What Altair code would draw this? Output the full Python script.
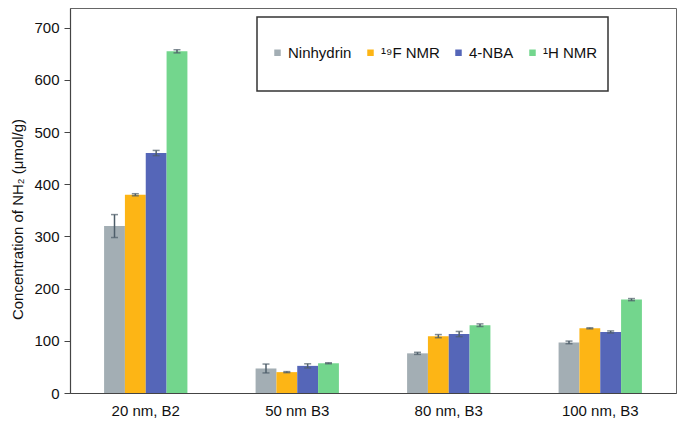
import altair as alt
import pandas as pd

categories = ["20 nm, B2", "50 nm B3", "80 nm, B3", "100 nm, B3"]
methods = ["Ninhydrin", "¹⁹F NMR", "4-NBA", "¹H NMR"]
colors = ["#A3AEB4", "#FDB515", "#5566B8", "#73D68D"]

ninhydrin = [320, 47, 76, 97]
f19_nmr = [380, 40, 109, 124]
nba = [460, 52, 113, 117]
h1_nmr = [655, 57, 130, 179]

ninhydrin_err = [22, 8.5, 2, 2.5]
f19_err = [2, 1, 3, 1]
nba_err = [5, 4, 5, 2]
h1_err = [3, 1, 2.5, 2]

series = [ninhydrin, f19_nmr, nba, h1_nmr]
errs = [ninhydrin_err, f19_err, nba_err, h1_err]

rows = []
for m, vals, es in zip(methods, series, errs):
    for c, v, e in zip(categories, vals, es):
        rows.append({"sample": c, "method": m, "value": v, "lo": v - e, "hi": v + e})
df = pd.DataFrame(rows)

FONT = "Liberation Sans"

x_enc = alt.X("sample:N", sort=categories, title=None,
              scale=alt.Scale(paddingInner=0.45, paddingOuter=0.225),
              axis=alt.Axis(labelAngle=0, labelFontSize=15, labelColor="#111",
                            ticks=False, labelPadding=10, domainColor="#444",
                            domainWidth=1.2))
xoff = alt.XOffset("method:N", sort=methods, scale=alt.Scale(paddingInner=0, paddingOuter=0))

base = alt.Chart(df)

bars = base.mark_bar(opacity=1).encode(
    x=x_enc,
    xOffset=xoff,
    y=alt.Y("value:Q",
            scale=alt.Scale(domain=[0, 738], nice=False),
            axis=alt.Axis(values=[0, 100, 200, 300, 400, 500, 600, 700],
                          title="Concentration of NH₂ (μmol/g)",
                          titleFontSize=15, titleFontWeight="normal",
                          titleColor="#111", titleX=-45, titleY=211,
                          labelFontSize=15, labelColor="#111", labelPadding=5,
                          tickSize=6, tickColor="#444", domainColor="#444",
                          domainWidth=1.2, grid=False)),
    color=alt.Color("method:N", sort=methods,
                    scale=alt.Scale(domain=methods, range=colors),
                    legend=alt.Legend(orient="none", direction="horizontal",
                                      legendX=200, legendY=37, title=None,
                                      symbolType="square", symbolSize=42,
                                      symbolStrokeWidth=0, labelFontSize=15,
                                      labelColor="#111", labelOffset=3,
                                      columnPadding=11, padding=0)),
)

rules = base.mark_rule(color="#4E5E6A", strokeWidth=1.5).encode(
    x=alt.X("sample:N", sort=categories),
    xOffset=xoff,
    y="lo:Q",
    y2="hi:Q",
)

caps_hi = base.mark_tick(color="#4E5E6A", size=7, thickness=1.5).encode(
    x=alt.X("sample:N", sort=categories),
    xOffset=xoff,
    y="hi:Q",
)
caps_lo = base.mark_tick(color="#4E5E6A", size=7, thickness=1.5).encode(
    x=alt.X("sample:N", sort=categories),
    xOffset=xoff,
    y="lo:Q",
)

frame = alt.Chart(pd.DataFrame({"a": [0]})).mark_rect(
    fill="transparent", stroke="#333", strokeWidth=1.5
).encode(
    x=alt.value(187), x2=alt.value(538), y=alt.value(9), y2=alt.value(83)
)

chart = alt.layer(bars, rules, caps_hi, caps_lo, frame).properties(
    width=606, height=385,
    autosize=alt.AutoSizeParams(type="none"),
    padding={"left": 62, "top": 0, "right": 1, "bottom": 28},
).configure(
    font=FONT,
).configure_view(
    stroke="#666", strokeWidth=1
)

chart.save("out.html", embed_options={"renderer": "svg", "actions": False})
